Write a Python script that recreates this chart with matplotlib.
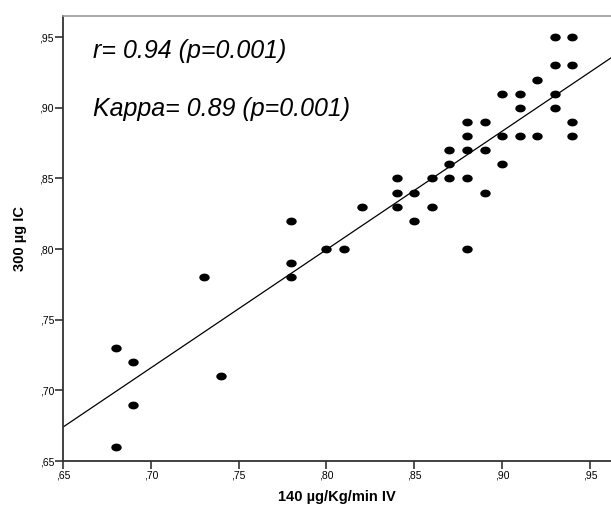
import matplotlib
matplotlib.use("Agg")
import matplotlib.pyplot as plt
import numpy as np
from matplotlib.path import Path

# datos
iv_140 = [0.68, 0.68, 0.69, 0.69, 0.73, 0.74, 0.78, 0.78, 0.78, 0.80,
          0.81, 0.82, 0.84, 0.84, 0.84, 0.85, 0.85, 0.86, 0.86, 0.87,
          0.87, 0.87, 0.88, 0.88, 0.88, 0.88, 0.88, 0.89, 0.89, 0.89,
          0.90, 0.90, 0.90, 0.91, 0.91, 0.91, 0.92, 0.92, 0.93, 0.93,
          0.93, 0.93, 0.94, 0.94, 0.94, 0.94]
ic_300 = [0.73, 0.66, 0.72, 0.69, 0.78, 0.71, 0.82, 0.79, 0.78, 0.80,
          0.80, 0.83, 0.85, 0.84, 0.83, 0.84, 0.82, 0.85, 0.83, 0.87,
          0.86, 0.85, 0.89, 0.88, 0.87, 0.85, 0.80, 0.89, 0.87, 0.84,
          0.91, 0.88, 0.86, 0.91, 0.90, 0.88, 0.92, 0.88, 0.95, 0.93,
          0.91, 0.90, 0.95, 0.93, 0.89, 0.88]

ticks = [0.65, 0.70, 0.75, 0.80, 0.85, 0.90, 0.95]
tick_labels = [",65", ",70", ",75", ",80", ",85", ",90", ",95"]

plt.rcParams['font.family'] = ['Liberation Sans', 'DejaVu Sans']

fig = plt.figure(figsize=(6.11, 5.11), dpi=100)
ax = fig.add_axes([0.1031, 0.0978, 0.897, 0.871])

# punto eliptico como en SPSS
t = np.linspace(0, 2*np.pi, 40)
ellipse = Path(np.column_stack([np.cos(t), 0.75*np.sin(t)]), closed=True)

ax.plot(iv_140, ic_300, linestyle='none', marker=ellipse, markersize=7.5,
        color='black', markeredgewidth=0)

# recta de ajuste
b, a = np.polyfit(iv_140, ic_300, 1)
xs = np.array([0.65, 0.97])
ax.plot(xs, a + b*xs, color='black', linewidth=0.9)

ax.set_xlim(0.65, 0.962)
ax.set_ylim(0.65, 0.965)
ax.set_xticks(ticks)
ax.set_xticklabels(tick_labels)
ax.set_yticks(ticks)
ax.set_yticklabels(tick_labels)
ax.tick_params(labelsize=7.5, length=6, width=1.2, color='#333333', pad=0.5)

for s in ['left', 'bottom']:
    ax.spines[s].set_linewidth(1.3)
    ax.spines[s].set_color('#333333')
ax.spines['top'].set_color('#999999')
ax.spines['top'].set_linewidth(1.2)
ax.spines['right'].set_visible(False)

ax.set_xlabel("140 µg/Kg/min IV", fontsize=10.5, fontweight='bold', labelpad=7)
ax.set_ylabel("300 µg IC", fontsize=10.5, fontweight='bold', labelpad=9)

ax.text(0.055, 0.921, "r= 0.94 (p=0.001)", transform=ax.transAxes,
        fontsize=18, style='italic', va='center')
ax.text(0.055, 0.791, "Kappa= 0.89 (p=0.001)", transform=ax.transAxes,
        fontsize=18, style='italic', va='center')

fig.savefig("out.png", dpi=100)
